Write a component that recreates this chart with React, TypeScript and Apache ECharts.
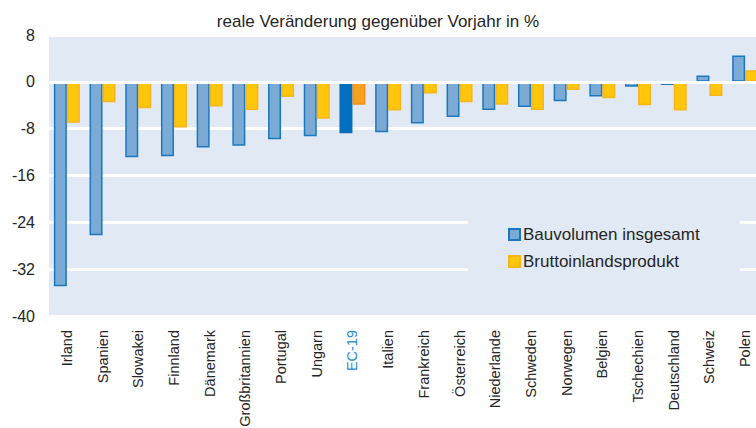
import React, { useEffect, useRef } from "react";
import * as echarts from "echarts";

const categories = [
  "Irland", "Spanien", "Slowakei", "Finnland", "Dänemark", "Großbritannien", "Portugal", "Ungarn", "EC-19",
  "Italien", "Frankreich", "Österreich", "Niederlande", "Schweden", "Norwegen", "Belgien", "Tschechien",
  "Deutschland", "Schweiz", "Polen",
];
const bauvolumen = [-34.9, -26.2, -12.9, -12.7, -11.2, -10.9, -9.8, -9.3, -8.8, -8.6, -7.1, -6.0, -4.8, -4.3, -3.3, -2.5, -0.85, -0.55, 1.1, 4.5];
const bip = [-7.0, -3.5, -4.5, -7.8, -4.2, -4.8, -2.6, -6.3, -3.9, -4.9, -2.0, -3.5, -3.9, -4.8, -1.4, -2.8, -4.0, -4.9, -2.4, 2.0];
const highlight = "EC-19";
const yTicks = { min: -40, max: 8, interval: 8 };
const titleText = "reale Veränderung gegenüber Vorjahr in %";
const seriesNames = ["Bauvolumen insgesamt", "Bruttoinlandsprodukt"];

const FONT = "'Liberation Sans', Arial, sans-serif";

export default function App() {
  const ref = useRef<HTMLDivElement>(null);
  useEffect(() => {
    if (!ref.current) return;
    const chart = echarts.init(ref.current, null, { renderer: "svg" });
    const blueData = bauvolumen.map((v, i) =>
      categories[i] === highlight
        ? { value: v, itemStyle: { color: "#0070C0", borderColor: "#0A6CB8" } }
        : v
    );
    const yellowData = bip.map((v, i) =>
      categories[i] === highlight
        ? { value: v, itemStyle: { color: "#F6A21F", borderColor: "#F28E1C" } }
        : v
    );
    chart.setOption({
      animation: false,
      textStyle: { fontFamily: FONT },
      title: {
        text: titleText,
        left: "center",
        top: 8,
        textStyle: { fontFamily: FONT, fontSize: 17, fontWeight: "normal", color: "#262626" },
      },
      legend: {
        orient: "vertical",
        left: 468,
        top: 214,
        padding: [12, 40, 12, 40],
        backgroundColor: "#E1E9F4",
        itemWidth: 11,
        itemHeight: 11,
        itemGap: 10,
        icon: "rect",
        z: 10,
        textStyle: { fontFamily: FONT, fontSize: 17, color: "#262626", padding: [0, 0, 0, -2] },
        data: seriesNames,
      },
      grid: {
        left: 49,
        top: 35,
        height: 281,
        width: 714,
        show: true,
        backgroundColor: "#E1E9F4",
        borderWidth: 0,
        containLabel: false,
        outerBoundsMode: "none",
      },
      xAxis: {
        type: "category",
        data: categories,
        z: 10,
        axisLine: { show: true, onZero: true, lineStyle: { color: "#FFFFFF", width: 3 } },
        axisTick: { show: false },
        axisLabel: {
          rotate: 90,
          margin: 14,
          interval: 0,
          fontFamily: FONT,
          fontSize: 14.5,
          color: (value: string) => (value === highlight ? "#1F8AD6" : "#262626"),
        },
      },
      yAxis: {
        type: "value",
        min: yTicks.min,
        max: yTicks.max,
        interval: yTicks.interval,
        axisLine: { show: false },
        axisTick: { show: false },
        splitLine: { lineStyle: { color: "#FFFFFF", width: 3 } },
        axisLabel: { margin: 14, fontFamily: FONT, fontSize: 16, color: "#262626" },
      },
      series: [
        {
          name: seriesNames[0],
          type: "bar",
          data: blueData,
          barWidth: 13,
          barGap: "0%",
          itemStyle: { color: "#7BAAD5", borderColor: "#1A78C0", borderWidth: 1.5 },
        },
        {
          name: seriesNames[1],
          type: "bar",
          data: yellowData,
          barWidth: 13,
          itemStyle: { color: "#FFC60B", borderColor: "#F7B51C", borderWidth: 1.5 },
        },
      ],
    });
    return () => chart.dispose();
  }, []);
  return (
    <div
      ref={ref}
      style={{ position: "fixed", left: 0, top: 0, width: 756, height: 428, background: "#FFFFFF" }}
    />
  );
}
